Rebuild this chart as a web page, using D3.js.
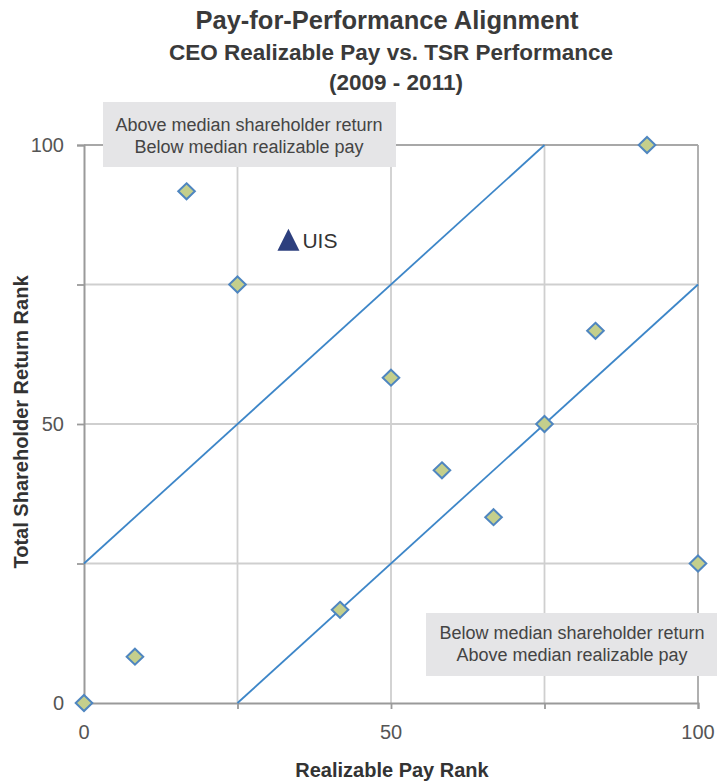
<!DOCTYPE html>
<html>
<head>
<meta charset="utf-8">
<script src="https://cdn.jsdelivr.net/npm/d3@7"></script>
<style>
  html, body { margin: 0; padding: 0; background: #fff; }
  svg { display: block; font-family: "Liberation Sans", Arial, Helvetica, sans-serif; }
</style>
</head>
<body>
<svg id="chart" width="717" height="781"></svg>
<script>
// ---- data ----
const peerPayRank = [0, 8.3, 16.7, 25, 41.7, 50, 58.3, 66.7, 75, 83.3, 91.7, 100];
const peerTsrRank = [0, 8.3, 91.7, 75, 16.7, 58.3, 41.7, 33.3, 50, 66.7, 100, 25];
const companyLabel = ["UIS"];
const companyPayRank = [33.3];
const companyTsrRank = [83];
const tickValues = [0, 50, 100];
const gridValues = [25, 50, 75, 100];
const upperBandX = [0, 75];
const upperBandY = [25, 100];
const lowerBandX = [25, 100];
const lowerBandY = [0, 75];
const titleLines = ["Pay-for-Performance Alignment", "CEO Realizable Pay vs. TSR Performance", "(2009 - 2011)"];
const topNote = ["Above median shareholder return", "Below median realizable pay"];
const bottomNote = ["Below median shareholder return", "Above median realizable pay"];
const xTitle = "Realizable Pay Rank";
const yTitle = "Total Shareholder Return Rank";

// ---- layout ----
const svg = d3.select("#chart");
const x = d3.scaleLinear().domain([0, 100]).range([84, 698]);
const y = d3.scaleLinear().domain([0, 100]).range([703, 145]);

// titles
svg.append("text").attr("x", 387).attr("y", 29).attr("text-anchor", "middle")
  .attr("font-size", 25.5).attr("font-weight", "bold").attr("fill", "#3a3a3a").text(titleLines[0]);
svg.append("text").attr("x", 391).attr("y", 60).attr("text-anchor", "middle")
  .attr("font-size", 22.5).attr("font-weight", "bold").attr("fill", "#3a3a3a").text(titleLines[1]);
svg.append("text").attr("x", 396).attr("y", 90).attr("text-anchor", "middle")
  .attr("font-size", 22.5).attr("font-weight", "bold").attr("fill", "#3a3a3a").text(titleLines[2]);

// grid
const g = svg.append("g");
g.selectAll("line.vg").data(gridValues).join("line")
  .attr("x1", d => x(d)).attr("x2", d => x(d)).attr("y1", y(0)).attr("y2", y(100))
  .attr("stroke", d => d === 100 ? "#a8a8a8" : "#cfcfcf").attr("stroke-width", 1.8);
g.selectAll("line.hg").data(gridValues).join("line")
  .attr("y1", d => y(d)).attr("y2", d => y(d)).attr("x1", x(0)).attr("x2", x(100))
  .attr("stroke", d => d === 100 ? "#a8a8a8" : "#cfcfcf").attr("stroke-width", 1.8);

// axes
const xAxis = d3.axisBottom(x).tickValues([0, 25, 50, 75, 100]).tickSize(6).tickFormat("");
const yAxis = d3.axisLeft(y).tickValues([0, 25, 50, 75, 100]).tickSize(7).tickFormat("");
const gx = svg.append("g").attr("transform", `translate(0,${y(0)})`).call(xAxis);
const gy = svg.append("g").attr("transform", `translate(${x(0)},0)`).call(yAxis);
[gx, gy].forEach(a => {
  a.select(".domain").attr("stroke", "#9a9a9a").attr("stroke-width", 2);
  a.selectAll(".tick line").attr("stroke", "#9a9a9a").attr("stroke-width", 1.8);
});
// tick labels
svg.selectAll("text.xt").data(tickValues).join("text")
  .attr("x", d => x(d)).attr("y", 739).attr("text-anchor", "middle")
  .attr("font-size", 20).attr("fill", "#555").text(d => d);
svg.selectAll("text.yt").data(tickValues).join("text")
  .attr("x", 64).attr("y", d => y(d) + 7).attr("text-anchor", "end")
  .attr("font-size", 20).attr("fill", "#555").text(d => d);

// axis titles
svg.append("text").attr("x", 392).attr("y", 777).attr("text-anchor", "middle")
  .attr("font-size", 20).attr("font-weight", "bold").attr("fill", "#333").text(xTitle);
svg.append("text").attr("transform", `translate(28,${y(50) - 2}) rotate(-90)`).attr("text-anchor", "middle")
  .attr("font-size", 20).attr("font-weight", "bold").attr("fill", "#333").text(yTitle);

// annotation boxes
function note(x0, y0, w, h, lines, cx, b1, b2) {
  svg.append("rect").attr("x", x0).attr("y", y0).attr("width", w).attr("height", h).attr("fill", "#e5e5e7");
  svg.append("text").attr("x", cx).attr("y", b1).attr("text-anchor", "middle")
    .attr("font-size", 18).attr("fill", "#444").text(lines[0]);
  svg.append("text").attr("x", cx).attr("y", b2).attr("text-anchor", "middle")
    .attr("font-size", 18).attr("fill", "#444").text(lines[1]);
}
note(103, 102, 293, 65, topNote, 249, 131, 153);
note(426, 613, 291, 63, bottomNote, 572, 639, 661);

// diagonal bands
const line = d3.line().x(d => x(d[0])).y(d => y(d[1]));
svg.append("path").attr("d", line(d3.zip(upperBandX, upperBandY)))
  .attr("fill", "none").attr("stroke", "#3d86c8").attr("stroke-width", 1.8);
svg.append("path").attr("d", line(d3.zip(lowerBandX, lowerBandY)))
  .attr("fill", "none").attr("stroke", "#3d86c8").attr("stroke-width", 1.8);

// peers (diamonds)
const diamond = "M0,-8L8.3,0L0,8L-8.3,0Z";
svg.selectAll("path.peer").data(d3.zip(peerPayRank, peerTsrRank)).join("path")
  .attr("class", "peer")
  .attr("transform", d => `translate(${x(d[0])},${y(d[1])})`)
  .attr("d", diamond).attr("fill", "#c4cf8c").attr("stroke", "#4f86c0").attr("stroke-width", 2);

// company (triangle)
const tri = "M0,-11L11,11L-11,11Z";
const comp = d3.zip(companyPayRank, companyTsrRank, companyLabel);
svg.selectAll("path.comp").data(comp).join("path")
  .attr("transform", d => `translate(${x(d[0])},${y(d[1])})`)
  .attr("d", tri).attr("fill", "#2d3f7e");
svg.selectAll("text.comp").data(comp).join("text")
  .attr("x", d => x(d[0]) + 14).attr("y", d => y(d[1]) + 8)
  .attr("font-size", 21).attr("fill", "#333").text(d => d[2]);
</script>
</body>
</html>
